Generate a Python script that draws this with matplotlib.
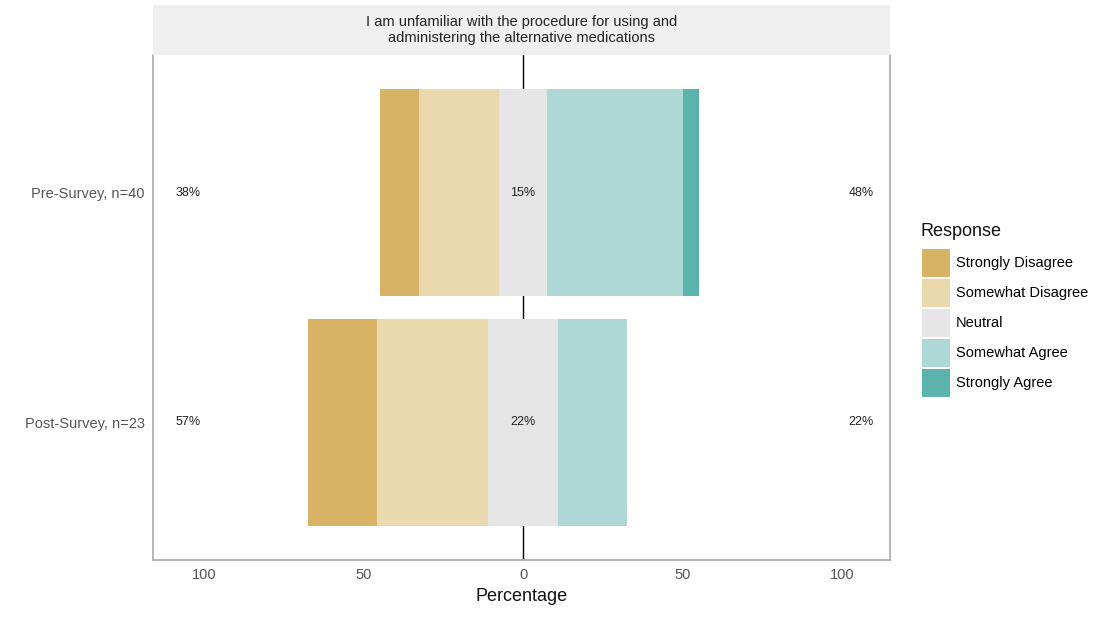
import matplotlib
matplotlib.use("Agg")
import matplotlib.pyplot as plt
from matplotlib.patches import Patch
import numpy as np

plt.rcParams['font.family'] = ['Liberation Sans', 'DejaVu Sans']

title = "I am unfamiliar with the procedure for using and\nadministering the alternative medications"
groups = ["Pre-Survey, n=40", "Post-Survey, n=23"]
levels = ["Strongly Disagree", "Somewhat Disagree", "Neutral", "Somewhat Agree", "Strongly Agree"]
colors = ["#D8B365", "#EAD9AE", "#E5E5E5", "#ADD8D5", "#5AB4AC"]
# percentages per level for each group
pre = [12.5, 25.0, 15.0, 42.5, 5.0]
post = [21.7, 34.8, 21.7, 21.7, 0.0]
low_labels = ["38%", "57%"]
neu_labels = ["15%", "22%"]
high_labels = ["48%", "22%"]
xticks = [-100, -50, 0, 50, 100]
xticklabels = ["100", "50", "0", "50", "100"]

data = [pre, post]
ypos = [2, 1]

fig = plt.figure(figsize=(11.2, 6.18), dpi=100)
W, H = 1120, 618
L, R, T, B = 153, 890, 55, 560
ax = fig.add_axes([L / W, 1 - B / H, (R - L) / W, (B - T) / H])

for vals, y in zip(data, ypos):
    neutral = vals[2]
    start = -neutral / 2
    for i in [1, 0]:
        ax.barh(y, -vals[i], left=start, height=0.9, color=colors[i], linewidth=0, zorder=2)
        start -= vals[i]
    ax.barh(y, neutral, left=-neutral / 2, height=0.9, color=colors[2], linewidth=0, zorder=2)
    start = neutral / 2
    for i in [3, 4]:
        ax.barh(y, vals[i], left=start, height=0.9, color=colors[i], linewidth=0, zorder=2)
        start += vals[i]

for y, lo, ne, hi in zip(ypos, low_labels, neu_labels, high_labels):
    ax.text(-105, y, lo, ha='center', va='center', fontsize=9, color='#222222', zorder=4)
    ax.text(0, y, ne, ha='center', va='center', fontsize=9, color='#222222', zorder=4)
    ax.text(106, y, hi, ha='center', va='center', fontsize=9, color='#222222', zorder=4)

ax.axvline(0, color='black', linewidth=1.0, zorder=1)
ax.set_xlim(-116, 115)
ax.set_ylim(0.4, 2.6)
ax.set_yticks(ypos)
ax.set_yticklabels(groups, fontsize=10.5, color='#555555')
ax.set_xticks(xticks)
ax.set_xticklabels(xticklabels, fontsize=10.5, color='#555555')
ax.tick_params(axis='both', length=0, pad=6)
ax.set_xlabel("Percentage", fontsize=13, color='#111111', labelpad=4)
for s in ['left', 'right', 'bottom']:
    ax.spines[s].set_color('#AAAAAA')
    ax.spines[s].set_linewidth(1.2)
ax.spines['top'].set_visible(False)

# strip
sax = fig.add_axes([L / W, 1 - T / H, (R - L) / W, 50 / H])
sax.set_facecolor('#EFEFEF')
sax.set_xticks([]); sax.set_yticks([])
for s in sax.spines.values():
    s.set_visible(False)
sax.text(0.5, 0.5, title, ha='center', va='center', fontsize=10.5, color='#222222',
         transform=sax.transAxes, linespacing=1.2)

fig.text(921 / W, 1 - 231 / H, "Response", ha='left', va='center', fontsize=13, color='#111111')
handles = [Patch(facecolor=c, edgecolor='none', label=l) for c, l in zip(colors, levels)]
leg = fig.legend(handles=handles, loc='upper left',
                 bbox_to_anchor=(916 / W, 1 - 243 / H), frameon=False,
                 fontsize=10.5, handlelength=1.9, handleheight=2.55,
                 labelspacing=0.16, handletextpad=0.45, borderaxespad=0)

fig.savefig("out.png", dpi=100)
